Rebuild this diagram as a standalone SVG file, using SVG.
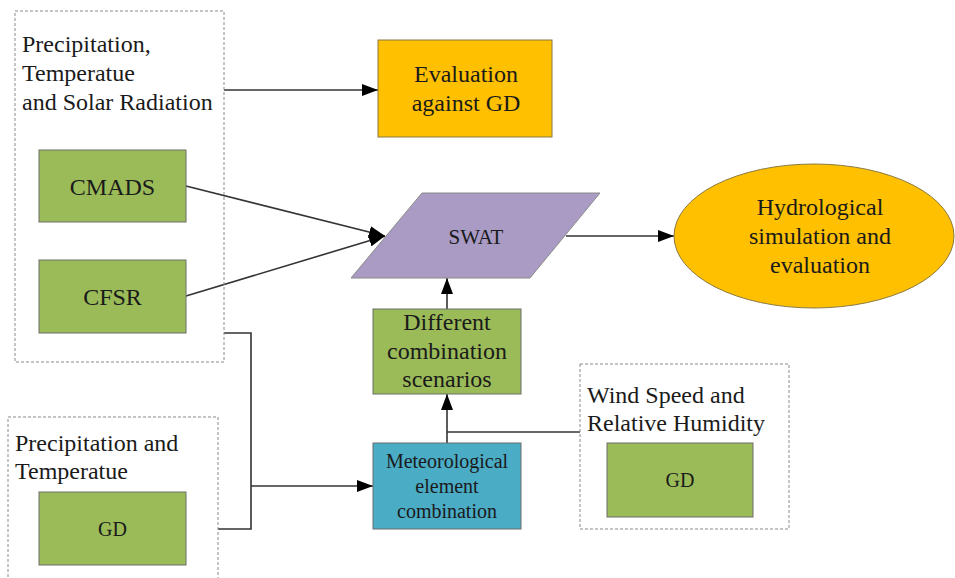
<svg xmlns="http://www.w3.org/2000/svg" width="955" height="578" viewBox="0 0 955 578">
  <style>
    text { font-family: "Liberation Serif", "Times New Roman", serif; fill: #1a1a1a; }
    .grp { fill: none; stroke: #8a8a8a; stroke-width: 1; stroke-dasharray: 3 2; }
    .green { fill: #9BBB59; stroke: #6d6d6d; stroke-width: 1; }
    .orange { fill: #FFC000; stroke: #8a7a40; stroke-width: 1; }
    .purple { fill: #A99BC4; stroke: #8a8a8a; stroke-width: 1; }
    .blue { fill: #4BACC6; stroke: #6d6d6d; stroke-width: 1; }
    .conn { fill: none; stroke: #333; stroke-width: 1.6; }
    .big { font-size: 24px; }
    .sm { font-size: 20px; }
  </style>
  <defs>
    <marker id="arrow" viewBox="0 0 16 12" refX="16" refY="6" markerWidth="16" markerHeight="12" markerUnits="userSpaceOnUse" orient="auto">
      <path d="M0,0 L16,6 L0,12 Z" fill="#000"/>
    </marker>
  </defs>
  <rect width="955" height="578" fill="#ffffff"/>

  <!-- connectors -->
  <g id="connectors">
    <line class="conn" x1="224" y1="90" x2="378" y2="90" marker-end="url(#arrow)"/>
    <line class="conn" x1="186" y1="186" x2="385" y2="236" marker-end="url(#arrow)"/>
    <line class="conn" x1="186" y1="296" x2="385" y2="236" marker-end="url(#arrow)"/>
    <line class="conn" x1="566" y1="236" x2="674" y2="236" marker-end="url(#arrow)"/>
    <line class="conn" x1="447" y1="309" x2="447" y2="278" marker-end="url(#arrow)"/>
    <line class="conn" x1="447" y1="443" x2="447" y2="394" marker-end="url(#arrow)"/>
    <line class="conn" x1="447" y1="432" x2="580" y2="432"/>
    <polyline class="conn" points="224,333 251,333 251,529 218,529"/>
    <line class="conn" x1="251" y1="486" x2="373" y2="486" marker-end="url(#arrow)"/>
  </g>

  <!-- group: precipitation, temperature and solar radiation -->
  <g id="group-pts">
    <rect class="grp" x="15" y="11" width="209" height="351"/>
    <text class="big" x="22" y="52">Precipitation,</text>
    <text class="big" x="22" y="81">Temperatue</text>
    <text class="big" x="22" y="110">and Solar Radiation</text>
  </g>

  <g id="cmads">
    <rect class="green" x="39" y="150" width="147" height="72"/>
    <text class="big" x="112.5" y="195" text-anchor="middle">CMADS</text>
  </g>

  <g id="cfsr">
    <rect class="green" x="39" y="260" width="147" height="73"/>
    <text class="big" x="112.5" y="305" text-anchor="middle">CFSR</text>
  </g>

  <g id="evaluation">
    <rect class="orange" x="378" y="40" width="174" height="97"/>
    <text class="big" x="466" y="82" text-anchor="middle">Evaluation</text>
    <text class="big" x="466" y="111" text-anchor="middle">against GD</text>
  </g>

  <g id="swat">
    <polygon class="purple" points="422,193 600,193 530,278 351,278"/>
    <text x="476" y="244" text-anchor="middle" font-size="21">SWAT</text>
  </g>

  <g id="hydro">
    <ellipse class="orange" cx="814" cy="236" rx="140" ry="72"/>
    <text class="big" x="820" y="215" text-anchor="middle">Hydrological</text>
    <text class="big" x="820" y="244" text-anchor="middle">simulation and</text>
    <text class="big" x="820" y="273" text-anchor="middle">evaluation</text>
  </g>

  <g id="scenarios">
    <rect class="green" x="373" y="309" width="148" height="85"/>
    <text class="big" x="447" y="330" text-anchor="middle">Different</text>
    <text class="big" x="447" y="359" text-anchor="middle">combination</text>
    <text class="big" x="447" y="387" text-anchor="middle">scenarios</text>
  </g>

  <g id="met-combination">
    <rect class="blue" x="373" y="443" width="148" height="86"/>
    <text class="sm" x="447" y="468" text-anchor="middle">Meteorological</text>
    <text class="sm" x="447" y="493" text-anchor="middle">element</text>
    <text class="sm" x="447" y="518" text-anchor="middle">combination</text>
  </g>

  <!-- group: wind speed and relative humidity -->
  <g id="group-wind">
    <rect class="grp" x="580" y="364" width="209" height="165"/>
    <text class="big" x="587" y="403">Wind Speed and</text>
    <text class="big" x="587" y="431">Relative Humidity</text>
  </g>

  <g id="gd-wind">
    <rect class="green" x="607" y="443" width="146" height="74"/>
    <text class="sm" x="680" y="487" text-anchor="middle">GD</text>
  </g>

  <!-- group: precipitation and temperature -->
  <g id="group-pt">
    <rect class="grp" x="8" y="417" width="210" height="170"/>
    <text class="big" x="15" y="451">Precipitation and</text>
    <text class="big" x="15" y="479">Temperatue</text>
  </g>

  <g id="gd-pt">
    <rect class="green" x="39" y="492" width="147" height="73"/>
    <text class="sm" x="112.5" y="536" text-anchor="middle">GD</text>
  </g>
</svg>
